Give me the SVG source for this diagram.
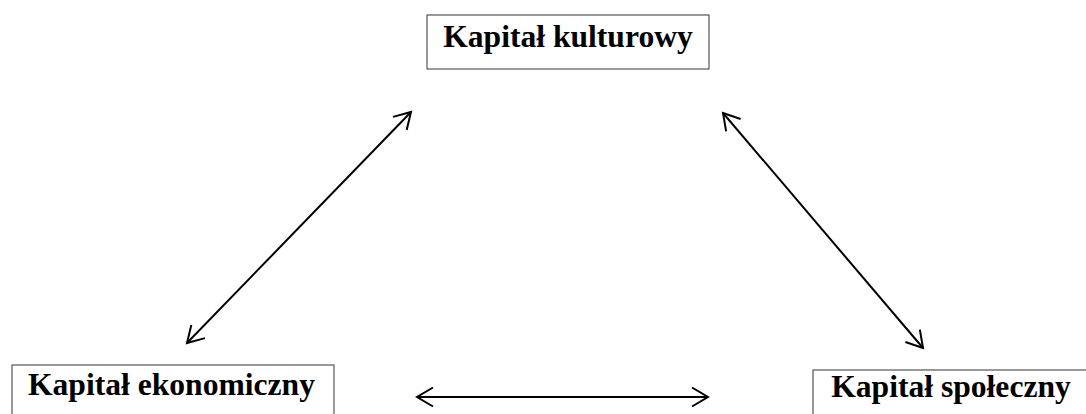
<svg xmlns="http://www.w3.org/2000/svg" width="1086" height="414" viewBox="0 0 1086 414">
<style>
.box{fill:#fff;stroke:#555;stroke-width:1.2}
.lbl{font-family:"Liberation Serif","Times New Roman",serif;font-weight:bold;font-size:31.6px;fill:#000;text-anchor:middle}
.con{stroke:#000;stroke-width:2;fill:none;marker-start:url(#ah);marker-end:url(#ah)}
</style>
<defs>
<marker id="ah" markerUnits="userSpaceOnUse" viewBox="-18 -12 20 24" markerWidth="20" markerHeight="24" refX="0" refY="0" orient="auto-start-reverse" overflow="visible">
<path d="M-16,-9.5 L0,0 L-16,9.5" fill="none" stroke="#000" stroke-width="2"/>
</marker>
</defs>
<rect width="1086" height="414" fill="#fff"/>
<g id="node-kulturowy">
<rect class="box" x="427" y="15" width="282" height="54"/>
<text class="lbl" x="568" y="47">Kapitał kulturowy</text>
</g>
<g id="node-ekonomiczny">
<rect class="box" x="12" y="365" width="322" height="70"/>
<text class="lbl" x="171.5" y="395">Kapitał ekonomiczny</text>
</g>
<g id="node-spoleczny">
<rect class="box" x="813" y="370" width="300" height="70"/>
<text class="lbl" x="951" y="397">Kapitał społeczny</text>
</g>
<g id="connectors">
<line class="con" x1="187" y1="343" x2="411" y2="112"/>
<line class="con" x1="723" y1="113" x2="923" y2="348"/>
<line class="con" x1="417" y1="397" x2="708" y2="397"/>
</g>
</svg>
